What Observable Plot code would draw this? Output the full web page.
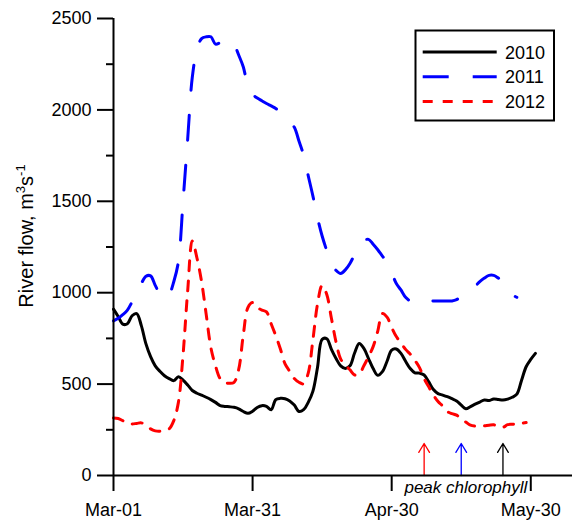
<!DOCTYPE html>
<html>
<head>
<meta charset="utf-8">
<script src="https://cdn.jsdelivr.net/npm/d3@7"></script>
<script src="https://cdn.jsdelivr.net/npm/@observablehq/plot@0.6"></script>
<style>
  html, body { margin: 0; padding: 0; background: #fff; }
  #chart svg { display: block; }
</style>
</head>
<body>
<div id="chart"></div>
<script>
// Daily river flow (m3/s), one value per day starting on 1 March of each year
const flow2010 = [
  910, 870, 828, 830, 874, 886, 820, 720, 650, 600,
  570, 546, 530, 519, 540, 522, 495, 465, 450, 440,
  428, 415, 400, 382, 378, 376, 373, 365, 350, 340,
  352, 372, 382, 378, 360, 415, 422, 420, 408, 385,
  350, 360, 400, 460, 591, 745, 748, 690, 640, 600,
  586, 600, 670, 722, 695, 640, 585, 548, 568, 625,
  686, 692, 668, 625, 585, 562, 560, 550, 512, 470,
  448, 440, 431, 420, 408, 385, 365, 377, 390, 402,
  413, 410, 419, 416, 413, 418, 428, 445, 520, 595,
  635, 668
];
const flow2011 = [
  846, 860, 880, 905, 950, 1000, 1050, 1090, 1092, 1040,
  995, 970, 990, 1060, 1170, 1500, 1840, 2180, 2330, 2390,
  2400, 2400, 2360, 2368, 2378, 2385, 2360, 2300, 2235, 2130,
  2085, 2065, 2050, 2035, 2022, 2008, 1985, 1960, 1935, 1905,
  1830, 1753, 1640, 1530, 1410, 1310, 1230, 1160, 1122, 1105,
  1125, 1160, 1210, 1260, 1285, 1292, 1265, 1235, 1200, 1168,
  1110, 1050, 1015, 975, 955, 950, 955, 958, 957, 955,
  955, 955, 955, 955, 962, 980, 998, 1010, 1035, 1060,
  1080, 1095, 1095, 1080, 1060, 1025, 990, 975
];
const flow2012 = [
  315, 312, 300, 285, 282, 285, 288, 275, 255, 244,
  242, 248, 255, 300, 400, 660, 1010, 1283, 1190, 1060,
  880, 700, 600, 530, 508, 505, 510, 580, 770, 919,
  946, 920, 905, 895, 830, 765, 692, 610, 570, 530,
  510, 502, 560, 740, 937, 1040, 990, 860, 730, 637,
  605, 578, 550, 555, 600, 650, 705, 790, 886, 866,
  810, 760, 725, 690, 664, 630, 590, 530, 485, 440,
  405, 380, 350, 338, 330, 310, 292, 275, 270, 270,
  272, 275, 277, 270, 264, 278, 280, 282, 286, 290
];

const years = ["2010", "2011", "2012"];
// Date of peak chlorophyll in each year (month-day)
const peakYears = ["2012", "2011", "2010"];
const peakMonthDay = ["05-07", "05-15", "05-24"];

const yTicks = [0, 500, 1000, 1500, 2000, 2500];
const yMinorTicks = [250, 750, 1250, 1750, 2250];
const xTickLabels = ["03-01", "03-31", "04-30", "05-30"];

// Styles per year
const lineStyle = {
  "2010": {stroke: "#000000", dash: null, legendDash: null},
  "2011": {stroke: "#0000ff", dash: "25,25", legendDash: "26,24"},
  "2012": {stroke: "#ff0000", dash: "10,10", legendDash: "10,10"}
};

// All seasons are laid over one common calendar
const day = md => new Date(`2010-${md}T00:00:00Z`);
const x0 = day("03-01");
const x1 = day("06-08");
const toRows = vals => vals.map((v, i) => ({date: d3.utcDay.offset(x0, i), flow: v}));
const series = {"2010": toRows(flow2010), "2011": toRows(flow2011), "2012": toRows(flow2012)};
const peaks = peakYears.map((y, i) => ({year: y, date: day(peakMonthDay[i])}));
const arrowTop = 175;

const font = "'Liberation Sans', Arial, Helvetica, sans-serif";

const chart = Plot.plot({
  width: 575,
  height: 521,
  marginLeft: 113,
  marginRight: 3,
  marginTop: 18,
  marginBottom: 46,
  style: {fontFamily: font, background: "#fff", color: "#000"},
  x: {type: "utc", domain: [x0, x1]},
  y: {domain: [0, 2500]},
  color: {type: "identity"},
  marks: [
    Plot.axisY({ticks: yMinorTicks, tickSize: 7, strokeWidth: 2, strokeOpacity: 1, tickFormat: () => "", label: null}),
    Plot.axisY({ticks: yTicks, tickSize: 16, tickPadding: 6, strokeWidth: 2, strokeOpacity: 1,
      fontSize: 18, tickFormat: d3.format("d"), label: null}),
    Plot.axisX({
      ticks: xTickLabels.map(day), tickSize: 16, tickPadding: 12, strokeWidth: 2, strokeOpacity: 1,
      fontSize: 18, tickFormat: d3.utcFormat("%b-%d"), label: null
    }),
    ...years.map(y => Plot.lineY(series[y], {
      x: "date", y: "flow",
      stroke: lineStyle[y].stroke,
      strokeWidth: 3,
      strokeDasharray: lineStyle[y].dash,
      strokeLinejoin: "round",
      curve: "catmull-rom"
    })),
    Plot.arrow(peaks, {
      x1: "date", x2: "date", y1: 0, y2: arrowTop,
      stroke: d => lineStyle[d.year].stroke,
      strokeWidth: 1.3, headLength: 12, headAngle: 62
    }),
    Plot.text([{date: day("05-16"), label: "peak chlorophyll"}], {
      x: "date", y: 0, text: "label", dy: 12,
      fontSize: 17, fontStyle: "italic", textAnchor: "middle", lineAnchor: "middle"
    }),
    Plot.ruleX([x0], {strokeWidth: 2}),
    Plot.ruleY([0], {strokeWidth: 2})
  ]
});

const svg = d3.select(chart);

// Y-axis title with superscript units
const ylab = svg.append("text")
  .attr("transform", "translate(33,236) rotate(-90)")
  .attr("text-anchor", "middle")
  .attr("font-family", font)
  .attr("font-size", 20)
  .attr("fill", "#000");
ylab.append("tspan").text("River flow, m");
ylab.append("tspan").attr("dy", -8).attr("font-size", 13).text("3");
ylab.append("tspan").attr("dy", 8).text("s");
ylab.append("tspan").attr("dy", -8).attr("font-size", 13).text("-1");

// Legend
const lg = svg.append("g").attr("font-family", font).attr("font-size", 18).attr("text-anchor", "start");
lg.append("rect")
  .attr("x", 415.5).attr("y", 30.5).attr("width", 138.5).attr("height", 90)
  .attr("fill", "#fff").attr("stroke", "#000").attr("stroke-width", 2);
years.forEach((y, i) => {
  const cy = 52 + i * 24.7;
  lg.append("line")
    .attr("x1", 422.7).attr("x2", 496.7).attr("y1", cy).attr("y2", cy)
    .attr("stroke", lineStyle[y].stroke).attr("stroke-width", 3)
    .attr("stroke-dasharray", lineStyle[y].legendDash);
  lg.append("text").attr("x", 505).attr("y", cy + 6.5).attr("fill", "#000").text(y);
});

document.getElementById("chart").appendChild(chart);
</script>
</body>
</html>
